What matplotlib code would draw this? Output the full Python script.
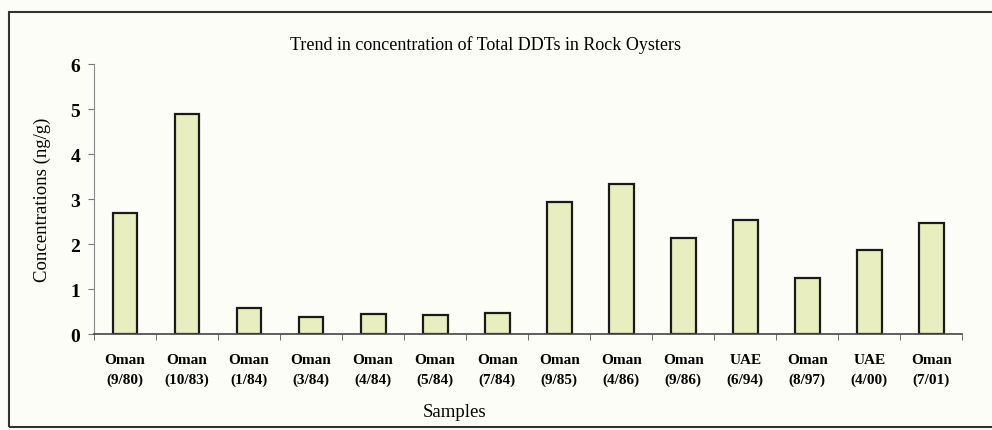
import matplotlib.pyplot as plt
import numpy as np
from matplotlib.patches import Rectangle

sites = ["Oman", "Oman", "Oman", "Oman", "Oman", "Oman", "Oman",
         "Oman", "Oman", "Oman", "UAE", "Oman", "UAE", "Oman"]
dates = ["(9/80)", "(10/83)", "(1/84)", "(3/84)", "(4/84)", "(5/84)", "(7/84)",
         "(9/85)", "(4/86)", "(9/86)", "(6/94)", "(8/97)", "(4/00)", "(7/01)"]
ddt = [2.70, 4.90, 0.58, 0.37, 0.44, 0.42, 0.47,
       2.93, 3.33, 2.14, 2.53, 1.24, 1.86, 2.47]

plt.rcParams['font.family'] = ['Liberation Serif', 'DejaVu Serif']

bg = '#fdfdf8'
fig = plt.figure(figsize=(9.92, 4.31), dpi=100, facecolor=bg)
ax = fig.add_axes([0.0948, 0.2227, 0.8752, 0.6263], facecolor=bg)

x = np.arange(len(ddt))
ax.bar(x, ddt, width=0.4, color='#e8eebf', edgecolor='#1a1a1a', linewidth=1.6)

ax.set_xlim(-0.5, len(ddt) - 0.5)
ax.set_ylim(0, 6)
ax.set_yticks(range(7))
ax.set_yticklabels([str(i) for i in range(7)], fontsize=14, fontweight='bold')

labels = [s + "\n" + d for s, d in zip(sites, dates)]
ax.set_xticks(x)
ax.set_xticklabels(labels, fontsize=11, fontweight='bold', linespacing=1.6)
ax.tick_params(axis='x', length=0, pad=14)
ax.set_xticks(np.arange(-0.5, len(ddt)), minor=True)
ax.tick_params(axis='x', which='minor', length=4, color='#555555', direction='out')
ax.tick_params(axis='y', length=4, color='#777777', pad=6)

ax.spines['top'].set_visible(False)
ax.spines['right'].set_visible(False)
ax.spines['left'].set_color('#888888')
ax.spines['bottom'].set_color('#444444')
ax.spines['bottom'].set_linewidth(1.2)

ax.set_ylabel("Concentrations (ng/g)", fontsize=13.5, labelpad=14)
ax.set_xlabel("Samples", fontsize=13.5)
ax.xaxis.set_label_coords(0.415, -0.255)
fig.text(0.489, 0.895, "Trend in concentration of Total DDTs in Rock Oysters",
         ha='center', va='center', fontsize=13)

# outer frame
fig.patches.append(Rectangle((0.009, 0.008), 1.1, 0.962, transform=fig.transFigure,
                             fill=False, edgecolor='#333333', linewidth=1.5))

fig.savefig("out.png", dpi=100, facecolor=bg)
